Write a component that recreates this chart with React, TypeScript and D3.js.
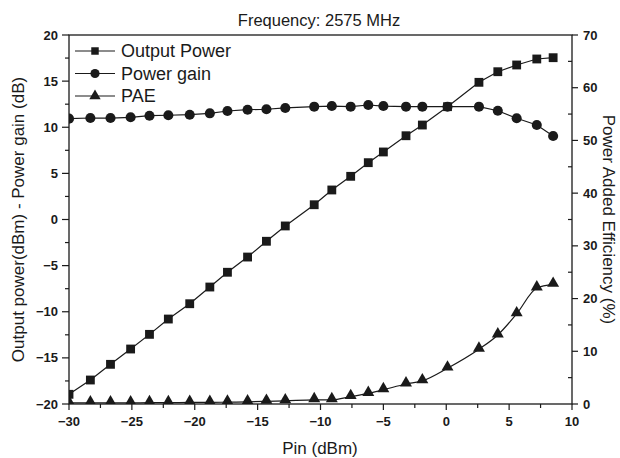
import React from "react";
import * as d3 from "d3";

// Input power sweep (dBm)
const pin = [-30, -28.3, -26.7, -25.1, -23.6, -22.1, -20.4, -18.8, -17.4, -15.8, -14.3, -12.8, -10.5, -9.1, -7.6, -6.2, -5.0, -3.2, -1.9, 0.1, 2.6, 4.1, 5.6, 7.2, 8.5];
// Output power (dBm)
const outputPower = [-18.95, -17.4, -15.7, -14.04, -12.45, -10.79, -9.13, -7.32, -5.72, -4.07, -2.36, -0.7, 1.6, 3.2, 4.68, 6.16, 7.32, 9.08, 10.24, 12.23, 14.87, 16.02, 16.75, 17.4, 17.54];
// Power gain (dB)
const powerGain = [10.93, 11.0, 11.0, 11.08, 11.25, 11.3, 11.36, 11.51, 11.76, 11.9, 11.95, 12.09, 12.23, 12.3, 12.23, 12.41, 12.3, 12.23, 12.23, 12.23, 12.23, 11.79, 10.97, 10.24, 9.05];
// Power added efficiency (%)
const pae = [0.2, 0.2, 0.2, 0.2, 0.25, 0.25, 0.3, 0.3, 0.35, 0.4, 0.5, 0.6, 0.8, 0.8, 1.4, 2.0, 2.7, 3.8, 4.4, 6.8, 10.4, 13.1, 17.1, 22.0, 22.7];

const xTicks = [-30, -25, -20, -15, -10, -5, 0, 5, 10];
const xMinor = [-27.5, -22.5, -17.5, -12.5, -7.5, -2.5, 2.5, 7.5];
const yLeftTicks = [-20, -15, -10, -5, 0, 5, 10, 15, 20];
const yLeftMinor = [-17.5, -12.5, -7.5, -2.5, 2.5, 7.5, 12.5, 17.5];
const yRightTicks = [0, 10, 20, 30, 40, 50, 60, 70];
const yRightMinor = [5, 15, 25, 35, 45, 55, 65];

const legendItems = ["Output Power", "Power gain", "PAE"];

const W = 620;
const H = 458;
const L = 69, R = 572, T = 35, B = 404;
const FONT = "'Liberation Sans', Arial, sans-serif";
const INK = "#1a1a1a";

const fmt = (v: number) => (v < 0 ? "\u2212" + Math.abs(v) : String(v));

export default function App() {
  const x = d3.scaleLinear().domain([-30, 10]).range([L, R]);
  const yL = d3.scaleLinear().domain([-20, 20]).range([B, T]);
  const yR = d3.scaleLinear().domain([0, 70]).range([B, T]);

  const lineOut = d3.line<number>().x((_, i) => x(pin[i])).y((d) => yL(d));
  const lineGain = d3.line<number>().x((_, i) => x(pin[i])).y((d) => yL(d));
  const linePae = d3
    .line<number>()
    .x((_, i) => x(pin[i]))
    .y((d) => yR(d))
    .curve(d3.curveMonotoneX);

  const sq = d3.symbol().type(d3.symbolSquare).size(78)() as string;
  const circ = d3.symbol().type(d3.symbolCircle).size(80)() as string;
  const tri = d3.symbol().type(d3.symbolTriangle).size(62)() as string;
  const legSq = d3.symbol().type(d3.symbolSquare).size(56)() as string;
  const legCirc = d3.symbol().type(d3.symbolCircle).size(66)() as string;
  const legTri = d3.symbol().type(d3.symbolTriangle).size(56)() as string;
  const symbols = [legSq, legCirc, legTri];

  return (
    <svg
      width={W}
      height={H}
      style={{ position: "absolute", left: 0, top: 0, background: "#fff" }}
      fontFamily={FONT}
    >
      <rect x={0} y={0} width={W} height={H} fill="#fff" />
      <defs>
        <clipPath id="plotClip">
          <rect x={L} y={T - 10} width={R - L + 10} height={B - T + 10} />
        </clipPath>
      </defs>

      {/* title */}
      <text x={319} y={26} textAnchor="middle" fontSize={16.5} fill={INK}>
        Frequency: 2575 MHz
      </text>

      {/* series */}
      <g clipPath="url(#plotClip)">
        <path d={lineOut(outputPower) || ""} fill="none" stroke={INK} strokeWidth={1.2} />
        <path d={lineGain(powerGain) || ""} fill="none" stroke={INK} strokeWidth={1.2} />
        <path d={linePae(pae) || ""} fill="none" stroke={INK} strokeWidth={1.2} />
        {outputPower.map((v, i) => (
          <path key={"o" + i} d={sq} transform={`translate(${x(pin[i])},${yL(v)})`} fill={INK} />
        ))}
        {powerGain.map((v, i) => (
          <path key={"g" + i} d={circ} transform={`translate(${x(pin[i])},${yL(v)})`} fill={INK} />
        ))}
        {pae.map((v, i) => (
          <path key={"p" + i} d={tri} transform={`translate(${x(pin[i])},${yR(v) - 1})`} fill={INK} />
        ))}
      </g>

      {/* frame */}
      <rect x={L} y={T} width={R - L} height={B - T} fill="none" stroke={INK} strokeWidth={1.3} />

      {/* bottom axis */}
      {xTicks.map((t) => (
        <g key={"xt" + t}>
          <line x1={x(t)} x2={x(t)} y1={B} y2={B + 6} stroke={INK} strokeWidth={1.2} />
          <text x={x(t)} y={B + 22} textAnchor="middle" fontSize={13} fontWeight="bold" fill={INK}>
            {fmt(t)}
          </text>
        </g>
      ))}
      {xMinor.map((t) => (
        <line key={"xm" + t} x1={x(t)} x2={x(t)} y1={B} y2={B + 4} stroke={INK} strokeWidth={1.2} />
      ))}

      {/* left axis */}
      {yLeftTicks.map((t) => (
        <g key={"yl" + t}>
          <line x1={L - 7} x2={L} y1={yL(t)} y2={yL(t)} stroke={INK} strokeWidth={1.2} />
          <text x={L - 11} y={yL(t) + 4.5} textAnchor="end" fontSize={13} fontWeight="bold" fill={INK}>
            {fmt(t)}
          </text>
        </g>
      ))}
      {yLeftMinor.map((t) => (
        <line key={"ylm" + t} x1={L - 4} x2={L} y1={yL(t)} y2={yL(t)} stroke={INK} strokeWidth={1.2} />
      ))}

      {/* right axis */}
      {yRightTicks.map((t) => (
        <g key={"yr" + t}>
          <line x1={R} x2={R + 6} y1={yR(t)} y2={yR(t)} stroke={INK} strokeWidth={1.2} />
          <text x={R + 11} y={yR(t) + 4.5} textAnchor="start" fontSize={13} fontWeight="bold" fill={INK}>
            {t}
          </text>
        </g>
      ))}
      {yRightMinor.map((t) => (
        <line key={"yrm" + t} x1={R - 4} x2={R} y1={yR(t)} y2={yR(t)} stroke={INK} strokeWidth={1.2} />
      ))}

      {/* axis titles */}
      <text x={320} y={454} textAnchor="middle" fontSize={17} fill={INK}>
        Pin (dBm)
      </text>
      <text
        transform={`translate(24,${(T + B) / 2}) rotate(-90)`}
        textAnchor="middle"
        fontSize={17}
        fill={INK}
      >
        Output power(dBm) - Power gain (dB)
      </text>
      <text
        transform={`translate(603,${(T + B) / 2}) rotate(90)`}
        textAnchor="middle"
        fontSize={17}
        fill={INK}
      >
        Power Added Efficiency (%)
      </text>

      {/* legend */}
      {legendItems.map((name, i) => {
        const cy = 51 + i * 22.5;
        return (
          <g key={"lg" + name}>
            <line x1={75} x2={115} y1={cy} y2={cy} stroke={INK} strokeWidth={1.2} />
            <path d={symbols[i]} transform={`translate(95,${cy})`} fill={INK} />
            <text x={121} y={cy + 6} fontSize={18} fill={INK}>
              {name}
            </text>
          </g>
        );
      })}
    </svg>
  );
}
